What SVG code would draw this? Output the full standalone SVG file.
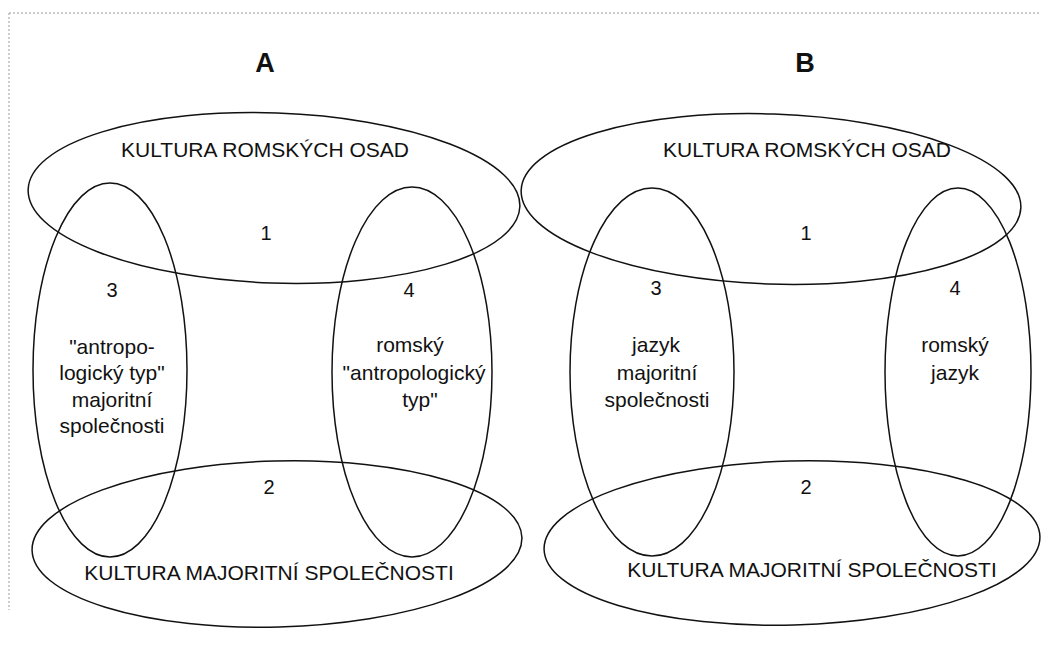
<svg xmlns="http://www.w3.org/2000/svg" width="1041" height="650" viewBox="0 0 1041 650">
<style>
.e{fill:none;stroke:#111;stroke-width:1.5}
.t{font-family:"Liberation Sans",Arial,sans-serif;font-size:21px;fill:#111;text-anchor:middle}
.h{font-family:"Liberation Sans",Arial,sans-serif;font-size:27px;font-weight:bold;fill:#111;text-anchor:middle}
.n{font-family:"Liberation Sans",Arial,sans-serif;font-size:20px;fill:#111;text-anchor:middle}
.f{fill:none;stroke:#999;stroke-width:1;stroke-dasharray:2 2}
</style>
<rect width="1041" height="650" fill="#fff"/>
<g id="frame">
<line class="f" x1="9" y1="13" x2="1041" y2="13"/>
<line class="f" x1="9" y1="13" x2="9" y2="610"/>
</g>
<g id="panelA">
<text class="h" x="265" y="72">A</text>
<g id="A-top"><ellipse class="e" cx="274" cy="198" rx="246" ry="85" transform="rotate(2 274 198)"/>
<text class="t" x="265" y="157">KULTURA ROMSKÝCH OSAD</text>
<text class="n" x="266" y="240">1</text></g>
<g id="A-bottom"><ellipse class="e" cx="277" cy="544" rx="245" ry="83" transform="rotate(-1.5 277 544)"/>
<text class="t" x="269" y="580">KULTURA MAJORITNÍ SPOLEČNOSTI</text>
<text class="n" x="269" y="494">2</text></g>
<g id="A-left"><ellipse class="e" cx="110" cy="370" rx="77" ry="187"/>
<text class="n" x="112" y="297">3</text>
<text class="t" x="112" y="354">"antropo-</text>
<text class="t" x="112" y="380">logický typ"</text>
<text class="t" x="112" y="407">majoritní</text>
<text class="t" x="112" y="433">společnosti</text></g>
<g id="A-right"><ellipse class="e" cx="412" cy="372" rx="80" ry="185"/>
<text class="n" x="409" y="297">4</text>
<text class="t" x="410" y="352">romský</text>
<text class="t" x="414" y="380">"antropologický</text>
<text class="t" x="420" y="407">typ"</text></g>
</g>
<g id="panelB">
<text class="h" x="805" y="72">B</text>
<g id="B-top"><ellipse class="e" cx="771" cy="199" rx="250" ry="85" transform="rotate(2 771 199)"/>
<text class="t" x="807" y="157">KULTURA ROMSKÝCH OSAD</text>
<text class="n" x="806" y="240">1</text></g>
<g id="B-bottom"><ellipse class="e" cx="792" cy="543" rx="248" ry="82" transform="rotate(-1.5 792 543)"/>
<text class="t" x="812" y="577">KULTURA MAJORITNÍ SPOLEČNOSTI</text>
<text class="n" x="806" y="494">2</text></g>
<g id="B-left"><ellipse class="e" cx="652" cy="372" rx="82" ry="184"/>
<text class="n" x="656" y="295">3</text>
<text class="t" x="656" y="352">jazyk</text>
<text class="t" x="657" y="380">majoritní</text>
<text class="t" x="657" y="407">společnosti</text></g>
<g id="B-right"><ellipse class="e" cx="958" cy="372" rx="73" ry="184"/>
<text class="n" x="955" y="295">4</text>
<text class="t" x="955" y="352">romský</text>
<text class="t" x="955" y="380">jazyk</text></g>
</g>
</svg>
